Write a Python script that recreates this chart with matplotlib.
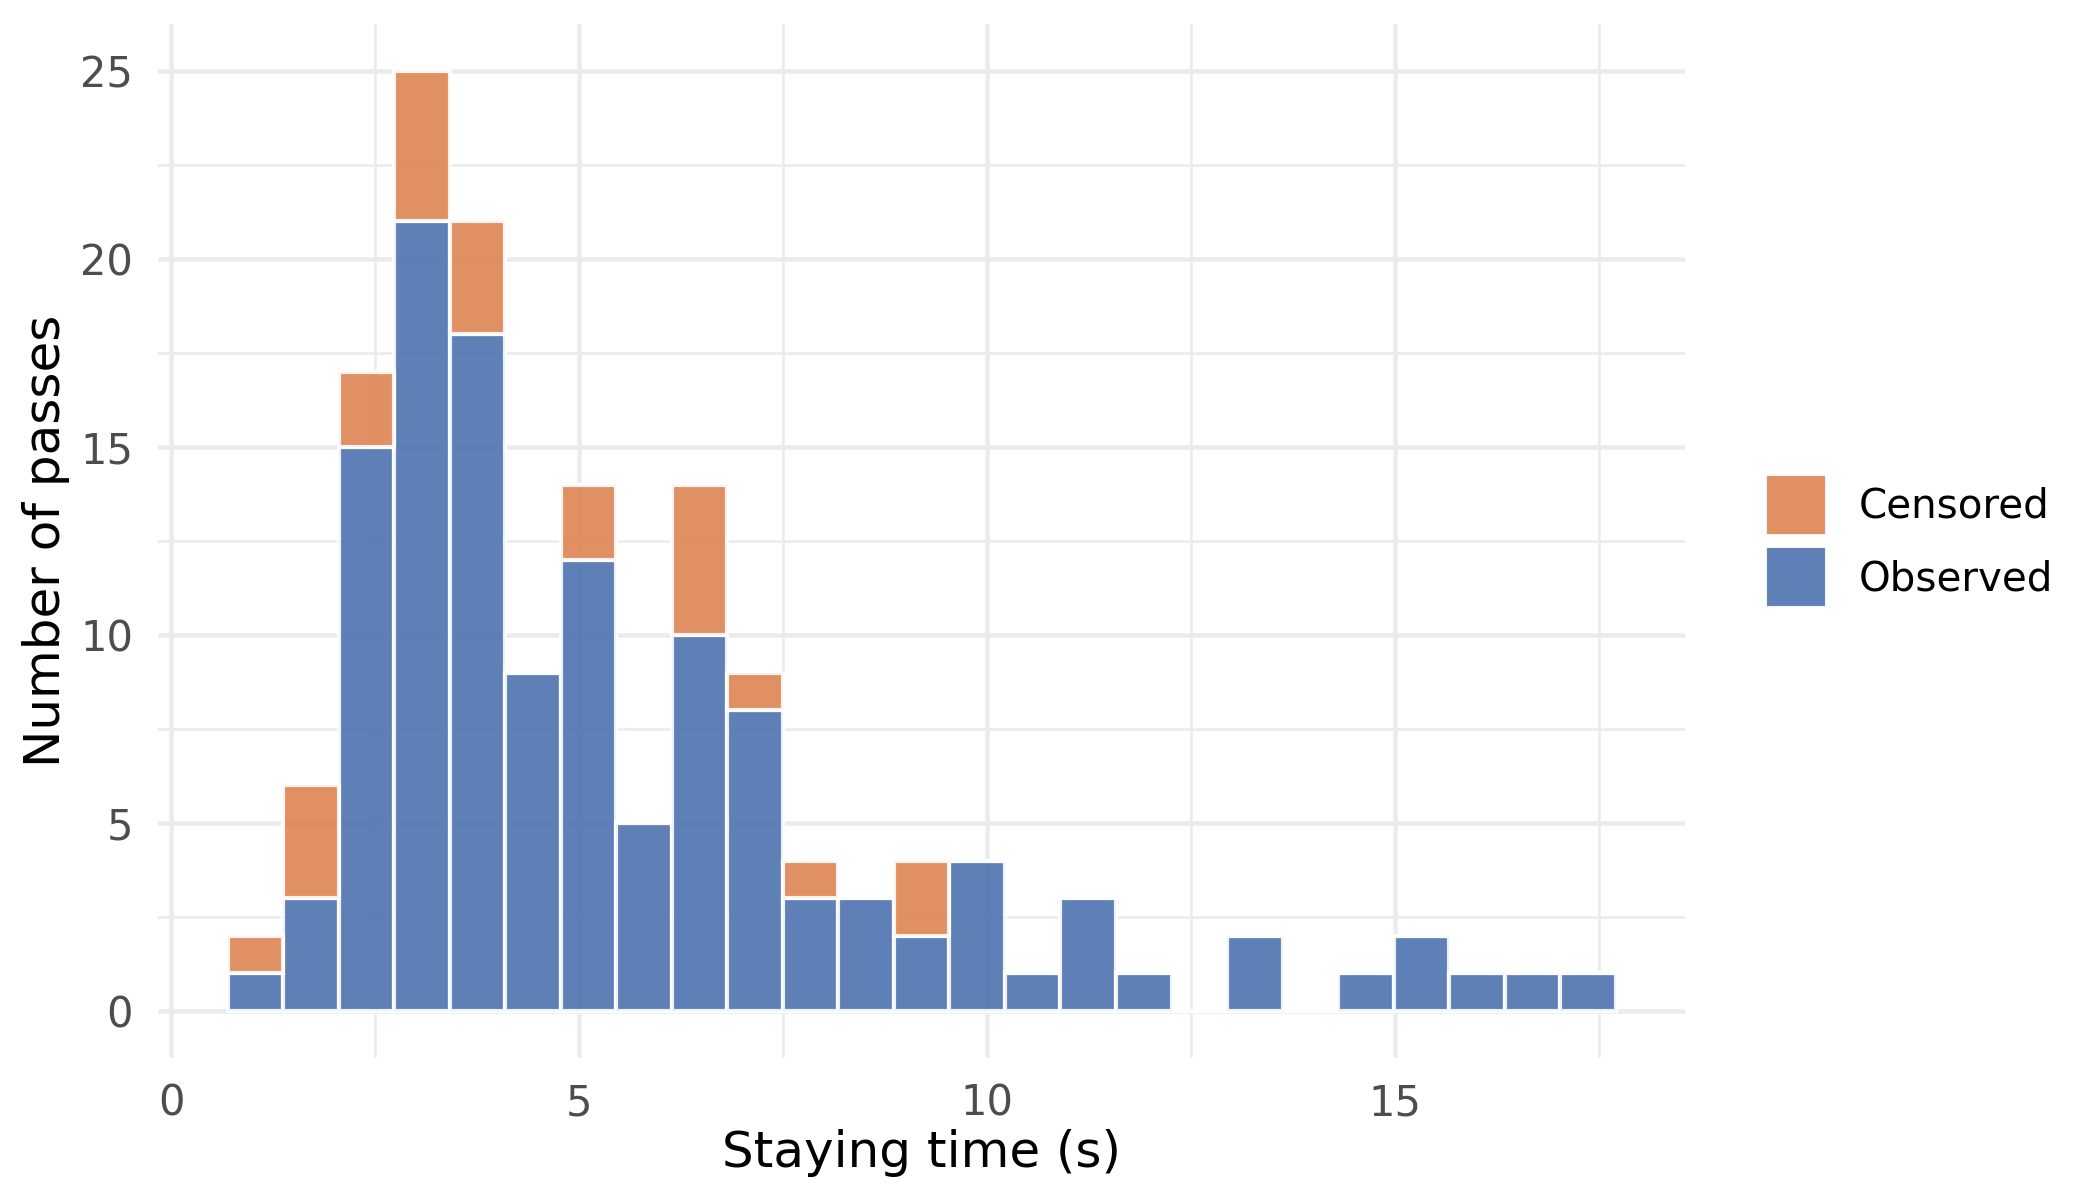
import numpy as np
import matplotlib
matplotlib.use("Agg")
import matplotlib.pyplot as plt
from matplotlib.patches import Patch
from matplotlib.ticker import MultipleLocator

# ---- data (histogram counts per bin) ----
bin_start = 0.695
bin_end = 17.71
observed = [1, 3, 15, 21, 18, 9, 12, 5, 10, 8, 3, 3, 2, 4, 1, 3, 1, 0, 2, 0, 1, 2, 1, 1, 1]
censored = [1, 3, 2, 4, 3, 0, 2, 0, 4, 1, 1, 0, 2, 0, 0, 0, 0, 0, 0, 0, 0, 0, 0, 0, 0]
series_labels = ["Censored", "Observed"]
x_label = "Staying time (s)"
y_label = "Number of passes"

edges = np.linspace(bin_start, bin_end, len(observed) + 1)
width = edges[1] - edges[0]

c_obs = "#4C72B0"
c_cen = "#DD8452"
alpha = 0.9

W, H, DPI = 2100, 1200, 300
fig = plt.figure(figsize=(W / DPI, H / DPI), dpi=DPI)
ax = fig.add_axes([158 / W, 1 - 1058 / H, (1685 - 158) / W, (1058 - 24) / H])

ax.bar(edges[:-1], observed, width=width, align="edge", color=c_obs, alpha=alpha,
       edgecolor="white", linewidth=1.0, zorder=3)
ax.bar(edges[:-1], censored, width=width, bottom=observed, align="edge", color=c_cen,
       alpha=alpha, edgecolor="white", linewidth=1.0, zorder=3)

ax.set_xlim(-0.16, 18.56)
ymax = max(o + c for o, c in zip(observed, censored))
ax.set_ylim(-0.05 * ymax, ymax * 1.05)

ax.xaxis.set_major_locator(MultipleLocator(5))
ax.xaxis.set_minor_locator(MultipleLocator(2.5))
ax.yaxis.set_major_locator(MultipleLocator(5))
ax.yaxis.set_minor_locator(MultipleLocator(2.5))
ax.grid(which="major", color="#EBEBEB", linewidth=1.1, zorder=0)
ax.grid(which="minor", color="#EBEBEB", linewidth=0.6, zorder=0)
ax.set_axisbelow(True)
for s in ax.spines.values():
    s.set_visible(False)
ax.tick_params(which="both", length=0, labelsize=10, labelcolor="#4D4D4D", pad=6)

ax.set_xlabel(x_label, fontsize=12, color="black", labelpad=1)
ax.set_ylabel(y_label, fontsize=12, color="black", labelpad=2.5)

handles = [Patch(facecolor=c_cen, alpha=alpha, edgecolor="white", linewidth=0.5),
           Patch(facecolor=c_obs, alpha=alpha, edgecolor="white", linewidth=0.5)]
fig.legend(handles, series_labels, loc="center left",
           bbox_to_anchor=(1766 / W, 1 - 541 / H), frameon=False, fontsize=9.7,
           handlelength=1.49, handleheight=1.91, handletextpad=0.8,
           labelspacing=0.3, borderpad=0, borderaxespad=0)

fig.savefig("out.png", dpi=DPI)
